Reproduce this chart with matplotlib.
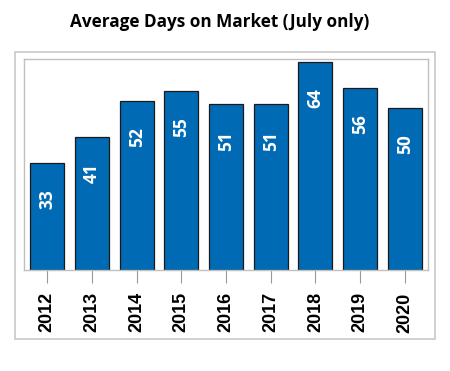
import matplotlib
matplotlib.use('Agg')
import matplotlib.pyplot as plt
from matplotlib.patches import Rectangle

years = ['2012', '2013', '2014', '2015', '2016', '2017', '2018', '2019', '2020']
days = [33, 41, 52, 55, 51, 51, 64, 56, 50]

fig = plt.figure(figsize=(4.5, 3.71), dpi=100)

# outer light frame around the plot area
fig.patches.append(Rectangle((0.0333, 0.0863), 0.933, 0.774, transform=fig.transFigure,
                             fill=False, edgecolor='#c8c8c8', linewidth=1.2))

ax = fig.add_axes([0.0533, 0.272, 0.898, 0.569])
x = range(len(years))
ax.bar(x, days, width=0.76, color='#006ab4', edgecolor='#1a1a1a', linewidth=0.9, zorder=2)

for xi, v in zip(x, days):
    ax.annotate(str(v), (xi, v), xytext=(0, -26), textcoords='offset points',
                ha='center', va='center', rotation=90, color='white',
                fontsize=12.5, fontweight='bold', family='Open Sans')

ax.set_xlim(-0.52, len(years) - 0.48)
ax.set_ylim(0, 65)
ax.set_yticks([])
ax.set_xticks(list(x))
ax.set_xticklabels(years, rotation=90, fontsize=13, fontweight='bold', family='Liberation Sans')
ax.tick_params(axis='x', length=9, color='#999999', pad=7, width=0.8)
for s in ax.spines.values():
    s.set_color('#c0c0c0')
    s.set_linewidth(1.0)

fig.text(0.487, 0.94, 'Average Days on Market (July only)', ha='center', va='center',
         fontsize=12.3, fontweight='bold', family='Open Sans')

fig.savefig('out.png', dpi=100)
